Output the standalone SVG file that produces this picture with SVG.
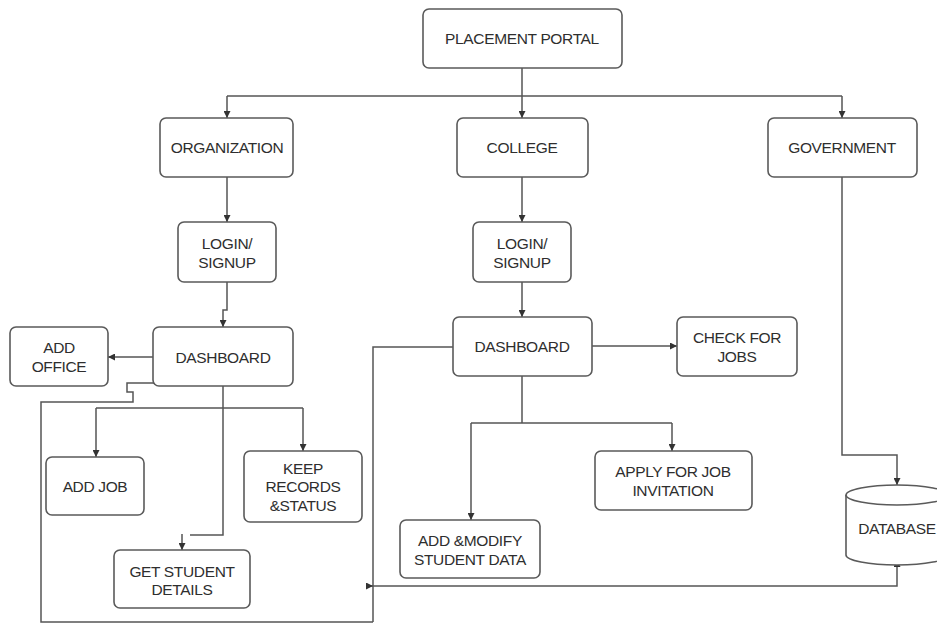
<svg xmlns="http://www.w3.org/2000/svg" width="937" height="625" viewBox="0 0 937 625">
<style>
.box{fill:#fff;stroke:#5a5a5a;stroke-width:1.6}
.t{font-family:"Liberation Sans",Arial,sans-serif;font-size:15.5px;fill:#2e2e2e;text-anchor:middle;letter-spacing:-0.35px}
.c{fill:none;stroke:#555;stroke-width:1.5}
</style>
<defs>
<marker id="a" viewBox="0 0 10 10" refX="10" refY="5" markerWidth="7" markerHeight="7" orient="auto" markerUnits="userSpaceOnUse">
<path d="M0,0 L10,5 L0,10 z" fill="#333"/>
</marker>
</defs>
<rect width="937" height="625" fill="#fff"/>
<g id="connectors">
<path class="c" d="M522,68 V96"/>
<path class="c" d="M227,96 H842"/>
<path class="c" d="M227,96 V118" marker-end="url(#a)"/>
<path class="c" d="M522,96 V118" marker-end="url(#a)"/>
<path class="c" d="M842,96 V118" marker-end="url(#a)"/>
<path class="c" d="M227,177 V222" marker-end="url(#a)"/>
<path class="c" d="M227,282 V310 H223 V327" marker-end="url(#a)"/>
<path class="c" d="M153,357 H108" marker-end="url(#a)"/>
<path class="c" d="M154,383 H127 V392 H133 V402 H41 V622 H373"/>
<path class="c" d="M223,386 V535 H190"/>
<path class="c" d="M182,534 V550" marker-end="url(#a)"/>
<path class="c" d="M96,408 H303"/>
<path class="c" d="M96,408 V457" marker-end="url(#a)"/>
<path class="c" d="M303,408 V451" marker-end="url(#a)"/>
<path class="c" d="M522,177 V222" marker-end="url(#a)"/>
<path class="c" d="M522,282 V317" marker-end="url(#a)"/>
<path class="c" d="M592,346 H677" marker-end="url(#a)"/>
<path class="c" d="M453,347 H373 V622"/>
<path class="c" d="M366,586 H373" marker-end="url(#a)"/>
<path class="c" d="M373,586 H897 V560" marker-end="url(#a)"/>
<path class="c" d="M522,376 V423"/>
<path class="c" d="M471,423 H672"/>
<path class="c" d="M471,423 V520" marker-end="url(#a)"/>
<path class="c" d="M672,423 V451" marker-end="url(#a)"/>
<path class="c" d="M842,177 V455 H897 V485" marker-end="url(#a)"/>
</g>
<g id="placement-portal"><rect class="box" x="423" y="9" width="199" height="59" rx="6"/><text class="t" x="522" y="44">PLACEMENT PORTAL</text></g>
<g id="organization"><rect class="box" x="160" y="118" width="133" height="59" rx="6"/><text class="t" x="227" y="153">ORGANIZATION</text></g>
<g id="college"><rect class="box" x="457" y="118" width="131" height="59" rx="6"/><text class="t" x="522" y="153">COLLEGE</text></g>
<g id="government"><rect class="box" x="768" y="118" width="149" height="59" rx="6"/><text class="t" x="842" y="153">GOVERNMENT</text></g>
<g id="org-login"><rect class="box" x="178" y="222" width="98" height="60" rx="6"/><text class="t" x="227" y="249">LOGIN/</text><text class="t" x="227" y="268">SIGNUP</text></g>
<g id="col-login"><rect class="box" x="473" y="222" width="98" height="60" rx="6"/><text class="t" x="522" y="249">LOGIN/</text><text class="t" x="522" y="268">SIGNUP</text></g>
<g id="org-dashboard"><rect class="box" x="153" y="327" width="140" height="59" rx="6"/><text class="t" x="223" y="363">DASHBOARD</text></g>
<g id="add-office"><rect class="box" x="10" y="327" width="98" height="59" rx="6"/><text class="t" x="59" y="353">ADD</text><text class="t" x="59" y="372">OFFICE</text></g>
<g id="add-job"><rect class="box" x="46" y="457" width="98" height="58" rx="6"/><text class="t" x="95" y="492">ADD JOB</text></g>
<g id="keep-records"><rect class="box" x="244" y="451" width="118" height="71" rx="6"/><text class="t" x="303" y="474">KEEP</text><text class="t" x="303" y="492">RECORDS</text><text class="t" x="303" y="511">&amp;STATUS</text></g>
<g id="get-student"><rect class="box" x="114" y="550" width="136" height="58" rx="6"/><text class="t" x="182" y="577">GET STUDENT</text><text class="t" x="182" y="595">DETAILS</text></g>
<g id="col-dashboard"><rect class="box" x="453" y="317" width="139" height="59" rx="6"/><text class="t" x="522" y="352">DASHBOARD</text></g>
<g id="check-jobs"><rect class="box" x="677" y="317" width="120" height="59" rx="6"/><text class="t" x="737" y="343">CHECK FOR</text><text class="t" x="737" y="362">JOBS</text></g>
<g id="apply-job"><rect class="box" x="595" y="451" width="157" height="59" rx="6"/><text class="t" x="673" y="477">APPLY FOR JOB</text><text class="t" x="673" y="496">INVITATION</text></g>
<g id="add-modify"><rect class="box" x="400" y="520" width="140" height="58" rx="6"/><text class="t" x="470" y="546">ADD &amp;MODIFY</text><text class="t" x="470" y="565">STUDENT DATA</text></g>
<g id="database">
<path class="box" d="M846,495 V555 A51,10 0 0 0 948,555 V495"/>
<ellipse class="box" cx="897" cy="495" rx="51" ry="10"/>
<text class="t" x="897" y="534">DATABASE</text>
</g>
</svg>
